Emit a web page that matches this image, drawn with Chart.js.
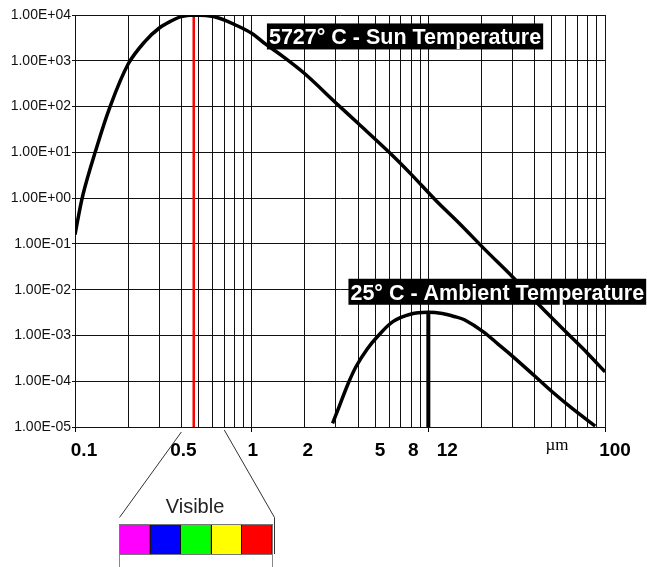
<!DOCTYPE html>
<html>
<head>
<meta charset="utf-8">
<script src="https://cdn.jsdelivr.net/npm/chart.js@4"></script>
<style>
  html, body { margin: 0; padding: 0; background: #fff; }
  #wrap { width: 647px; height: 567px; }
</style>
</head>
<body>
<div id="wrap"><canvas id="c" width="647" height="567"></canvas></div>
<script>
// wavelength (um) / relative radiance
const sunWavelength = [0.1, 0.111, 0.13, 0.158, 0.2, 0.25, 0.3, 0.35, 0.4, 0.47, 0.55, 0.65, 0.8, 1.0, 1.2, 1.5, 2, 3, 4, 6, 8, 11, 15, 21, 30, 42, 60, 80, 100];
const sunRadiance = [0.16, 1.2, 10, 100, 850, 2700, 5200, 7400, 9200, 10000, 9700, 8600, 6200, 4000, 2300, 1250, 520, 120, 43, 10, 3.3, 0.9, 0.28, 0.074, 0.019, 0.0048, 1.2e-3, 4e-4, 1.6e-4];

const ambientWavelength = [2.87, 3.14, 3.5, 3.9, 4.5, 5.1, 6.3, 8, 10, 12, 14, 16, 20.5, 25, 30, 40, 51, 66, 88];
const ambientRadiance = [1.2e-5, 2.9e-5, 8.5e-5, 2.1e-4, 5e-4, 9e-4, 2.0e-3, 2.95e-3, 3.2e-3, 3.0e-3, 2.6e-3, 2.2e-3, 1.2e-3, 6.3e-4, 3.5e-4, 1.3e-4, 5.6e-5, 2.45e-5, 1.05e-5];

const sunPeak = 0.47;
const ambientPeak = 10;
const ambientPeakValue = 3.2e-3;
const visibleRange = [0.4, 0.7];
const spectrumColors = ['#ff00ff', '#0000ff', '#00ff00', '#ffff00', '#ff0000'];

const xLabelValues = [0.1, 0.5, 1, 2, 5, 8, 12, 100];
const xLabelTexts = ['0.1', '0.5', '1', '2', '5', '8', '12', '100'];
const yTickValues = [1e-5, 1e-4, 1e-3, 1e-2, 1e-1, 1, 1e1, 1e2, 1e3, 1e4];
const unitLabel = 'µm';
const sunLabel = '5727° C - Sun Temperature';
const ambientLabel = '25° C - Ambient Temperature';
const visibleLabel = 'Visible';

const FONT = 'Arial, "Liberation Sans", sans-serif';
// small horizontal nudges so the axis numbers sit where the original puts them
const xLabelNudge = [9, -15, 1, 3, 5, 2, 5, 10];

const xGridValues = [];
for (const d of [0.1, 1, 10]) {
  for (let k = 1; k <= 9; k++) xGridValues.push(+(d * k).toPrecision(3));
}
xGridValues.push(100);

const isDecade = (v) => v != null && Math.abs(Math.log10(v) - Math.round(Math.log10(v))) < 1e-9;

function sci(v) {
  const e = Math.round(Math.log10(v));
  return '1.00E' + (e < 0 ? '-' : '+') + String(Math.abs(e)).padStart(2, '0');
}

function drawTag(ctx, text, left, midY) {
  ctx.save();
  ctx.font = 'bold 21.5px ' + FONT;
  const w = ctx.measureText(text).width;
  ctx.fillStyle = '#000';
  ctx.fillRect(left, midY - 13, w + 4, 26);
  ctx.fillStyle = '#fff';
  ctx.textAlign = 'left';
  ctx.textBaseline = 'alphabetic';
  ctx.fillText(text, left + 2, midY + 8);
  ctx.restore();
}

const extras = {
  id: 'extras',
  beforeDraw(chart) {
    const ctx = chart.ctx;
    ctx.save();
    ctx.fillStyle = '#fff';
    ctx.fillRect(0, 0, chart.width, chart.height);
    ctx.restore();
  },
  afterDatasetsDraw(chart) {
    const { ctx, scales: { x, y } } = chart;
    drawTag(ctx, sunLabel, x.getPixelForValue(1.22), y.getPixelForValue(3400));
    drawTag(ctx, ambientLabel, x.getPixelForValue(3.53), y.getPixelForValue(9e-3));
  },
  afterDraw(chart) {
    const { ctx, scales: { x } } = chart;
    ctx.save();

    // axis numbers
    ctx.fillStyle = '#000';
    ctx.font = 'bold 19px ' + FONT;
    ctx.textAlign = 'center';
    ctx.textBaseline = 'alphabetic';
    xLabelValues.forEach((v, i) => {
      ctx.fillText(xLabelTexts[i], x.getPixelForValue(v) + xLabelNudge[i], 456);
    });
    ctx.font = '17px "Liberation Serif", "Times New Roman", serif';
    ctx.fillText(unitLabel, x.getPixelForValue(100) - 48, 449.5);

    // zoom lines from the visible band down to the colour strip
    const boxL = 119, boxR = 272, boxT = 524, boxB = 554;
    ctx.strokeStyle = '#333';
    ctx.lineWidth = 1;
    ctx.beginPath();
    ctx.moveTo(x.getPixelForValue(visibleRange[0]), 432);
    ctx.lineTo(boxL + 0.5, 517.5);
    ctx.moveTo(x.getPixelForValue(visibleRange[1]), 430);
    ctx.lineTo(274.5, 517.5);
    ctx.lineTo(274.5, boxB);
    ctx.stroke();

    ctx.fillStyle = '#222';
    ctx.font = '20px ' + FONT;
    ctx.fillText(visibleLabel, 195, 513);

    const cw = (boxR - boxL) / spectrumColors.length;
    spectrumColors.forEach((c, i) => {
      ctx.fillStyle = c;
      ctx.fillRect(boxL + i * cw, boxT, cw, boxB - boxT);
      ctx.strokeStyle = '#111';
      ctx.strokeRect(Math.round(boxL + i * cw) + 0.5, boxT + 0.5, cw, boxB - boxT);
    });
    ctx.strokeStyle = '#777';
    ctx.strokeRect(boxL + 0.5, boxT + 0.5, boxR - boxL, boxB - boxT);

    ctx.strokeStyle = '#888';
    ctx.beginPath();
    ctx.moveTo(boxL + 0.5, boxB);
    ctx.lineTo(boxL + 0.5, chart.height);
    ctx.moveTo(boxR + 0.5, boxB);
    ctx.lineTo(boxR + 0.5, chart.height);
    ctx.stroke();

    ctx.restore();
  }
};

new Chart(document.getElementById('c'), {
  type: 'line',
  data: {
    datasets: [
      {
        label: 'Sun',
        data: sunWavelength.map((w, i) => ({ x: w, y: sunRadiance[i] })),
        borderColor: '#000',
        borderWidth: 3.5,
        pointRadius: 0,
        tension: 0.35,
        borderJoinStyle: 'round',
      },
      {
        label: 'Ambient',
        data: ambientWavelength.map((w, i) => ({ x: w, y: ambientRadiance[i] })),
        borderColor: '#000',
        borderWidth: 3.5,
        pointRadius: 0,
        tension: 0.35,
        borderJoinStyle: 'round',
      },
      {
        label: 'Ambient peak',
        data: [{ x: ambientPeak, y: 1e-5 }, { x: ambientPeak, y: ambientPeakValue }],
        borderColor: '#000',
        borderWidth: 4,
        pointRadius: 0,
      },
      {
        label: 'Sun peak',
        data: [{ x: sunPeak, y: 1e4 }, { x: sunPeak, y: 1e-5 }],
        borderColor: '#ff0000',
        borderWidth: 2.5,
        pointRadius: 0,
      },
    ],
  },
  options: {
    responsive: false,
    animation: false,
    layout: { padding: { top: 15, right: 42, left: 0, bottom: 0 } },
    plugins: {
      legend: { display: false },
      tooltip: { enabled: false },
    },
    scales: {
      x: {
        type: 'logarithmic',
        min: 0.1,
        max: 100,
        afterBuildTicks: (a) => { a.ticks = xGridValues.map((v) => ({ value: v })); },
        afterFit: (a) => { a.height = 140; },
        ticks: { display: false, autoSkip: false },
        grid: {
          color: '#111',
          lineWidth: 1,
          tickLength: 5,
          tickColor: (c) => (isDecade(c.tick && c.tick.value) ? '#000' : 'rgba(0,0,0,0)'),
        },
        border: { color: '#111', width: 1 },
      },
      y: {
        type: 'logarithmic',
        min: 1e-5,
        max: 1e4,
        afterBuildTicks: (a) => { a.ticks = yTickValues.map((v) => ({ value: v })); },
        afterFit: (a) => { a.width = 75; },
        ticks: {
          callback: (v) => sci(v),
          autoSkip: false,
          padding: 1,
          color: '#111',
          font: { family: FONT, size: 14 },
        },
        grid: { color: '#111', lineWidth: 1, tickLength: 3 },
        border: { color: '#111', width: 1 },
      },
    },
  },
  plugins: [extras],
});
</script>
</body>
</html>
